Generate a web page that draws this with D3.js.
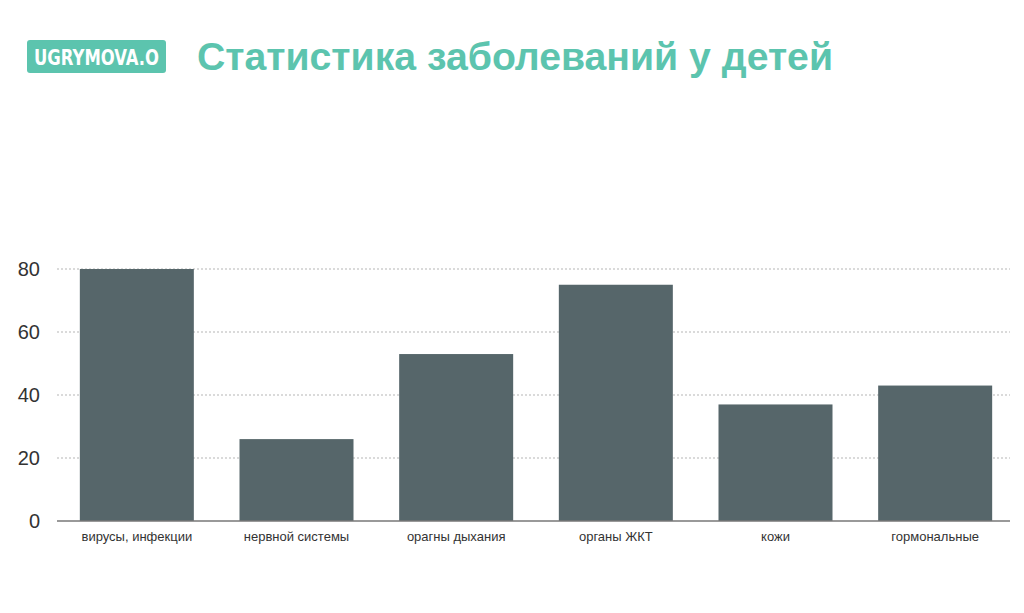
<!DOCTYPE html>
<html>
<head>
<meta charset="utf-8">
<script src="https://cdn.jsdelivr.net/npm/d3@7"></script>
<style>
  body { margin: 0; background: #fff; }
  svg { display: block; font-family: "Liberation Sans", Arial, sans-serif; }
</style>
</head>
<body>
<svg id="chart" width="1024" height="613"></svg>
<script>
var categories = ["вирусы, инфекции", "нервной системы", "орагны дыхания", "органы ЖКТ", "кожи", "гормональные"];
var values = [80, 26, 53, 75, 37, 43];
var ticks = [0, 20, 40, 60, 80];

var svg = d3.select("#chart"),
    plotLeft = 57, plotRight = 1015, plotTop = 269, plotBottom = 521;

// header
svg.append("rect")
    .attr("x", 27).attr("y", 40).attr("width", 139).attr("height", 33)
    .attr("rx", 3).attr("fill", "#5cc4ae");
svg.append("text")
    .attr("x", 96.5).attr("y", 65)
    .attr("text-anchor", "middle")
    .attr("fill", "#fff")
    .attr("font-family", "'DejaVu Sans Condensed', 'Liberation Sans Narrow', sans-serif")
    .attr("font-weight", "bold")
    .attr("font-size", 22)
    .attr("textLength", 125)
    .attr("lengthAdjust", "spacingAndGlyphs")
    .text("UGRYMOVA.O");
svg.append("text")
    .attr("x", 197).attr("y", 70)
    .attr("fill", "#5cc4ae")
    .attr("font-weight", "bold")
    .attr("font-size", 38)
    .attr("textLength", 636)
    .attr("lengthAdjust", "spacingAndGlyphs")
    .text("Статистика заболеваний у детей");

var x = d3.scaleBand()
    .domain(categories)
    .range([plotLeft, plotRight])
    .paddingInner(0.286)
    .paddingOuter(0.143);

var y = d3.scaleLinear()
    .domain([0, 80])
    .range([plotBottom, plotTop]);

// gridlines
svg.append("g")
  .selectAll("line")
  .data(ticks.slice(1))
  .enter().append("line")
    .attr("x1", plotLeft).attr("x2", 1010)
    .attr("y1", function(d) { return y(d); })
    .attr("y2", function(d) { return y(d); })
    .attr("stroke", "#b5b5b5")
    .attr("stroke-width", 1)
    .attr("stroke-dasharray", "2,2");

// bars
svg.append("g")
  .selectAll("rect")
  .data(values)
  .enter().append("rect")
    .attr("x", function(d, i) { return x(categories[i]); })
    .attr("y", function(d) { return y(d); })
    .attr("width", x.bandwidth())
    .attr("height", function(d) { return y(0) - y(d); })
    .attr("fill", "#56666a");

// baseline
svg.append("line")
    .attr("x1", plotLeft).attr("x2", 1010)
    .attr("y1", y(0)).attr("y2", y(0))
    .attr("stroke", "#777").attr("stroke-width", 1.5);

// y tick labels
svg.append("g")
  .selectAll("text")
  .data(ticks)
  .enter().append("text")
    .attr("x", 40)
    .attr("y", function(d) { return y(d); })
    .attr("dy", "0.35em")
    .attr("text-anchor", "end")
    .attr("font-size", 20)
    .attr("fill", "#333")
    .text(function(d) { return d; });

// category labels
svg.append("g")
  .selectAll("text")
  .data(categories)
  .enter().append("text")
    .attr("x", function(d) { return x(d) + x.bandwidth() / 2; })
    .attr("y", 541)
    .attr("text-anchor", "middle")
    .attr("font-size", 13)
    .attr("fill", "#333")
    .text(function(d) { return d; });
</script>
</body>
</html>
